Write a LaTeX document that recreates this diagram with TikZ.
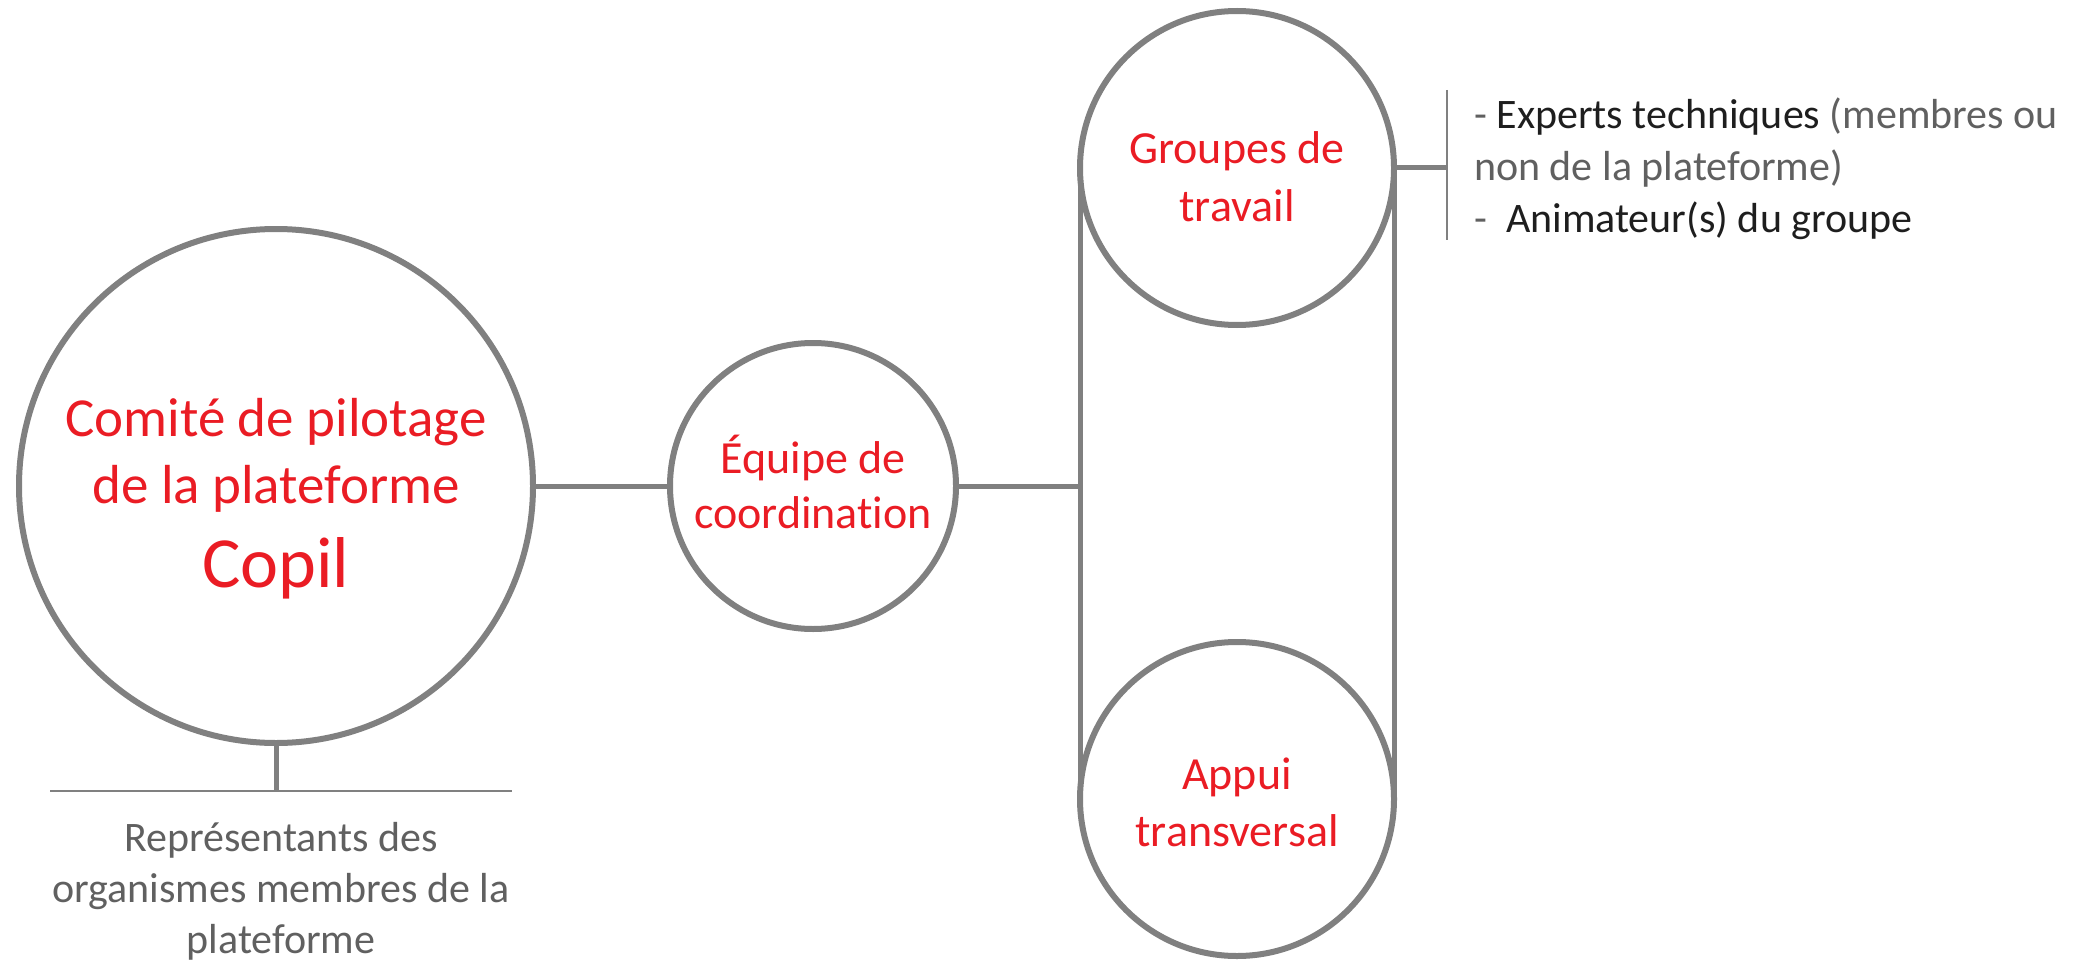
\documentclass[tikz,border=0pt]{standalone}
\usepackage{fontspec}
\setmainfont[Ligatures={NoCommon}]{Carlito}
\definecolor{redtxt}{RGB}{234,28,36}
\definecolor{linegray}{RGB}{128,128,128}
\definecolor{lighttxt}{RGB}{96,96,96}
\definecolor{darktxt}{RGB}{30,30,30}
\tikzset{
  circ/.style={circle, draw=linegray, line width=6pt, inner sep=0pt, outer sep=0pt},
  redlabel/.style={text=redtxt, align=center},
  conn/.style={draw=linegray, line width=5pt},
  thinconn/.style={draw=linegray, line width=2.5pt},
}
\begin{document}
\begin{tikzpicture}[x=1pt,y=-1pt]
\useasboundingbox (0,0) rectangle (2079,960);
\node[circ, minimum size=514pt] (copil) at (276,486) {};
\node[circ, minimum size=286pt] (equipe) at (813,486) {};
\node[circ, minimum size=314pt] (groupes) at (1237,168) {};
\node[circ, minimum size=314pt] (appui) at (1237,799) {};

\node[redlabel, font=\fontsize{55}{67}\selectfont] (copiltxt) at (276,455) {Comité de pilotage\\de la plateforme};
\node[redlabel, font=\fontsize{72}{80}\selectfont] (copilname) at (276,568) {Copil};
\node[redlabel, font=\fontsize{46}{55}\selectfont] (equipetxt) at (813,482) {Équipe de\\coordination};
\node[redlabel, font=\fontsize{46}{58}\selectfont] (groupestxt) at (1237,177) {Groupes de\\travail};
\node[redlabel, font=\fontsize{46}{57}\selectfont] (appuitxt) at (1237,802) {Appui\\transversal};

\coordinate (junc) at (groupes.west |- equipe.east);
\draw[conn] (copil.east) -- (equipe.west);
\draw[conn] (equipe.east) -- (junc);
\draw[conn] (groupes.west) -- (appui.west);
\draw[conn] (groupes.east) -- (appui.east);

% Copil bottom
\coordinate (cbar) at (276,791);
\coordinate (cbarl) at (50,791);
\coordinate (cbarr) at (512,791);
\draw[conn] (copil.south) -- (cbar);
\draw[thinconn] (cbarl) -- (cbarr);
\node[text=lighttxt, align=center, font=\fontsize{42}{51}\selectfont, anchor=north] (repr) at (281,819) {Représentants des\\organismes membres de la\\plateforme};

% Groupes right
\coordinate (gbar) at (1447,168);
\coordinate (gbart) at (1447,90);
\coordinate (gbarb) at (1447,240);
\draw[conn] (groupes.east) -- (gbar);
\draw[thinconn] (gbart) -- (gbarb);
\node[align=left, anchor=north west, text=lighttxt, font=\fontsize{42}{52}\selectfont, inner sep=0pt] (experts) at (1474,98)
  {- {\color{darktxt}Experts techniques} (membres ou\\non de la plateforme)\\-\ \ {\color{darktxt}Animateur(s) du groupe}};
\end{tikzpicture}
\end{document}
